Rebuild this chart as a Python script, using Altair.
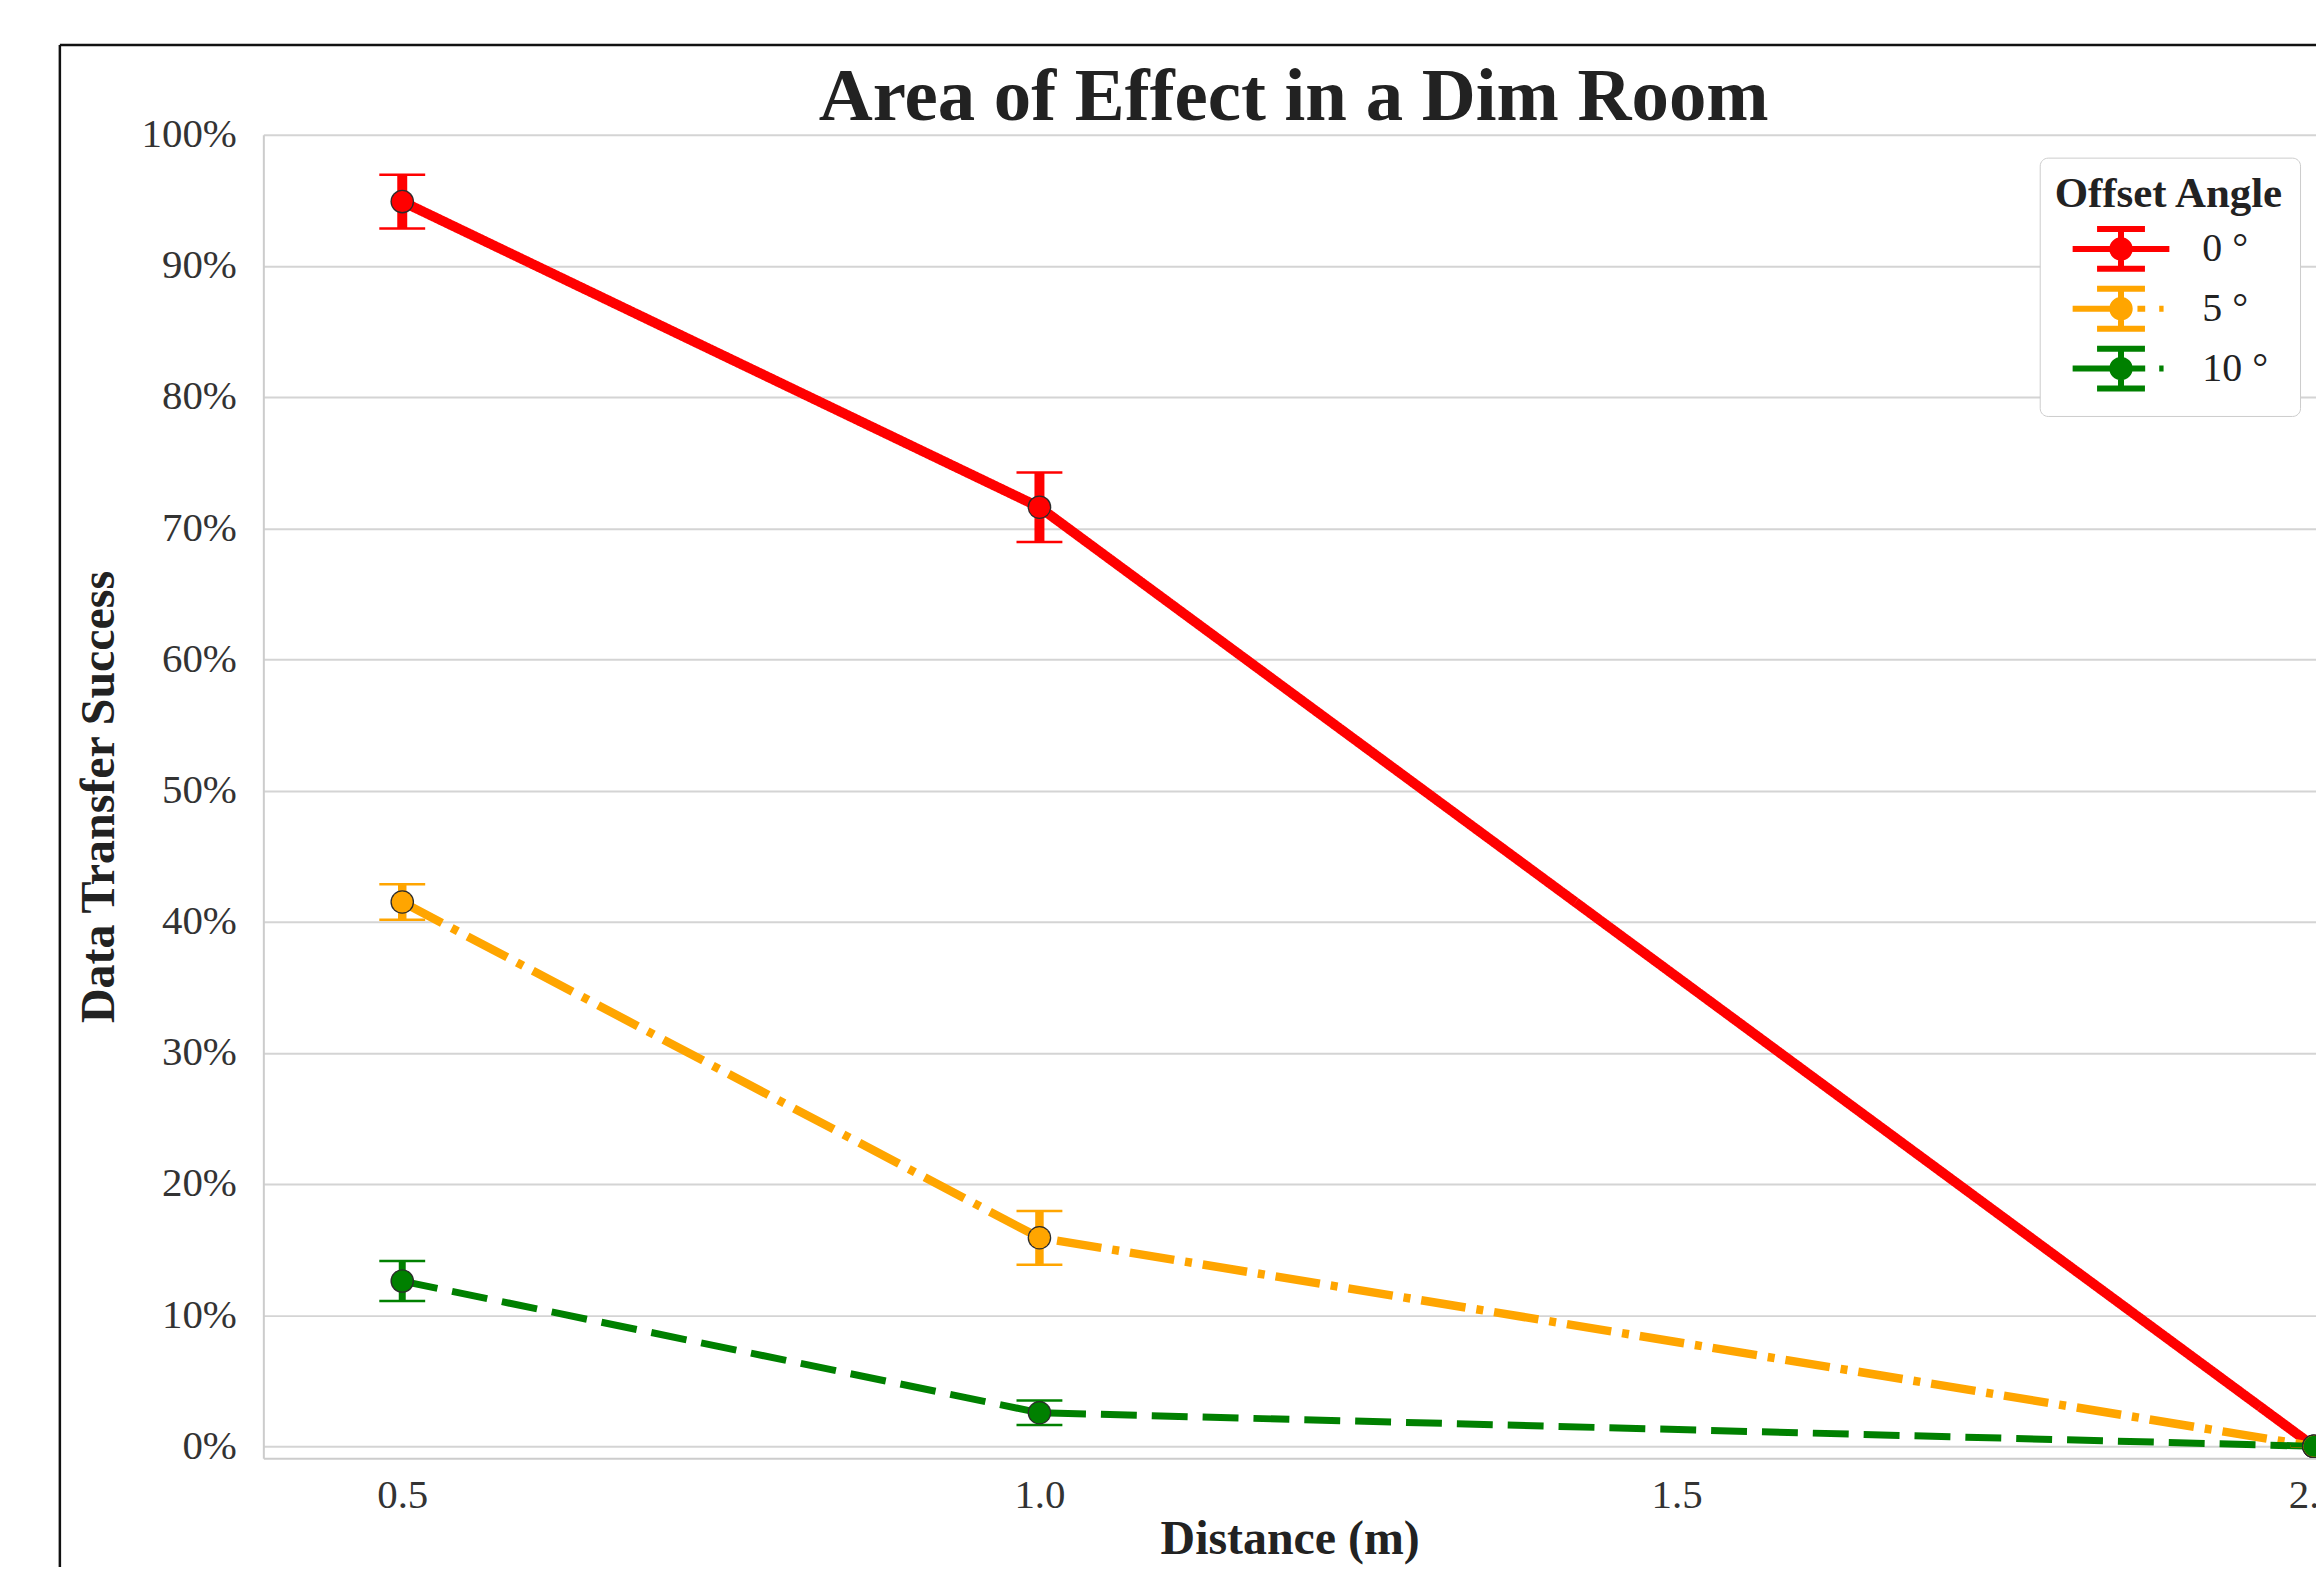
import altair as alt
import pandas as pd

# ---- data ----
distances = [0.5, 1.0, 2.0]
angle_labels = ["0 °", "5 °", "10 °"]
series_keys = ["s0", "s5", "s10"]
success_0 = [0.949, 0.716, 0.0]
success_5 = [0.415, 0.159, 0.0]
success_10 = [0.126, 0.0256, 0.0]
error_0 = [0.0205, 0.0265, 0.0]
error_5 = [0.0135, 0.0205, 0.0]
error_10 = [0.0152, 0.0093, 0.0]
x_tick_values = [0.5, 1.0, 1.5, 2.0]
y_tick_values = [0.0, 0.1, 0.2, 0.3, 0.4, 0.5, 0.6, 0.7, 0.8, 0.9, 1.0]
title_text = "Area of Effect in a Dim Room"
x_title = "Distance (m)"
y_title = "Data Transfer Success"
legend_title = "Offset Angle"

# ---- styles ----
series_colors = ["#ff0000", "#ffa500", "#008000"]
line_dashes = [[1, 0], [45, 11, 7, 11], [36, 15]]
line_widths = [10, 7, 8]
_glyph = ("M0,-0.825V0.825M-0.99,-0.825H0.99M-0.99,0.825H0.99"
          "M0.36,0A0.36,0.36,0,1,1,-0.36,0A0.36,0.36,0,1,1,0.36,0Z")
legend_paths = [
    "M-2,0H2" + _glyph,
    "M-2,0H-0.2M0.68,0H1M1.58,0H1.76" + _glyph,
    "M-2,0H-0.2M0.4,0H1M1.58,0H1.76" + _glyph,
]
FONT = "Liberation Serif"
W, H = 2058, 1327

rows = []
for name, key, vals, errs in zip(angle_labels, series_keys,
                                 [success_0, success_5, success_10],
                                 [error_0, error_5, error_10]):
    for d, v, e in zip(distances, vals, errs):
        rows.append({"distance": d, "angle": name, "series": key, "value": v,
                     "lo": v - e, "hi": v + e})
df = pd.DataFrame(rows)

x_scale = alt.Scale(domain=[0.391, 2.0017], nice=False, zero=False)
y_scale = alt.Scale(domain=[-0.0091, 1.0], nice=False, zero=False)
color_scale = alt.Scale(domain=series_keys, range=series_colors)
dash_scale = alt.Scale(domain=series_keys, range=line_dashes)
width_scale = alt.Scale(domain=series_keys, range=line_widths)
legend_color_scale = alt.Scale(domain=angle_labels, range=series_colors)
shape_scale = alt.Scale(domain=angle_labels, range=legend_paths)

x_axis = alt.Axis(values=x_tick_values, format=".1f", title=x_title,
                  titleFont=FONT, titleFontSize=48, titleFontWeight="bold",
                  titleColor="#222222", titlePadding=0,
                  labelFont=FONT, labelFontSize=41, labelColor="#333333",
                  labelPadding=17, ticks=False, domain=True,
                  domainColor="#cccccc", domainWidth=2, grid=False,
                  labelFlush=False)
y_axis = alt.Axis(values=y_tick_values, format=".0%", title=y_title,
                  titleFont=FONT, titleFontSize=48, titleFontWeight="bold",
                  titleColor="#222222", titlePadding=18,
                  labelFont=FONT, labelFontSize=41, labelColor="#333333",
                  labelPadding=27, ticks=False, domain=True,
                  domainColor="#cccccc", domainWidth=2, grid=True,
                  gridColor="#d4d4d4", gridWidth=2)

X = alt.X("distance:Q", scale=x_scale, axis=x_axis)


def Y(field):
    return alt.Y(f"{field}:Q", scale=y_scale, axis=y_axis)


def C():
    return alt.Color("series:N", scale=color_scale, legend=None)


base = alt.Chart(df)

frame_data = alt.Data(values=[{"k": 1}])
frame_v = alt.Chart(frame_data).mark_rule(color="#111111", strokeWidth=2.5).encode(
    x=alt.value(-204), y=alt.value(-90), y2=alt.value(H + 300))
frame_h = alt.Chart(frame_data).mark_rule(color="#111111", strokeWidth=2.5).encode(
    x=alt.value(-204), x2=alt.value(W + 300), y=alt.value(-90))

title_layer = alt.Chart(alt.Data(values=[{"t": title_text}])).mark_text(
    font=FONT, fontSize=75, fontWeight="bold", color="#222222",
    align="center", baseline="alphabetic",
).encode(text="t:N", x=alt.value(1033), y=alt.value(-14.5))

lines = base.mark_line().encode(
    x=X, y=Y("value"), color=C(),
    strokeDash=alt.StrokeDash("series:N", scale=dash_scale, legend=None),
    size=alt.Size("series:N", scale=width_scale, legend=None),
)

bars = base.mark_rule().encode(
    x=X, y=Y("lo"), y2="hi:Q", color=C(),
    size=alt.Size("series:N", scale=width_scale, legend=None),
)

caps_lo = base.mark_tick(orient="horizontal", size=46, thickness=2.5, opacity=1).encode(
    x=X, y=Y("lo"), color=C())
caps_hi = base.mark_tick(orient="horizontal", size=46, thickness=2.5, opacity=1).encode(
    x=X, y=Y("hi"), color=C())

pts_under = base.mark_point(filled=True, opacity=1, size=560, color="#2b2b2b").encode(
    x=X, y=Y("value"))
pts_over = base.mark_point(filled=True, opacity=1, size=445, strokeWidth=0).encode(
    x=X, y=Y("value"), color=C())

legend = alt.Legend(
    title=legend_title, orient="none", legendX=1781, legendY=23,
    titleFont=FONT, titleFontSize=43, titleFontWeight="bold", titleColor="#222222",
    titlePadding=6, titleLimit=600,
    labelFont=FONT, labelFontSize=40, labelColor="#222222",
    symbolSize=2352, symbolStrokeWidth=6, symbolOffset=39, labelOffset=54,
    rowPadding=-5, padding=15, fillColor="white", strokeColor="#cccccc",
    cornerRadius=8, symbolOpacity=1,
)

legend_layer = base.transform_filter("false").mark_point(filled=True, opacity=1).encode(
    x=X, y=Y("value"),
    fill=alt.Fill("angle:N", scale=legend_color_scale, legend=legend),
    stroke=alt.Stroke("angle:N", scale=legend_color_scale, legend=legend),
    shape=alt.Shape("angle:N", scale=shape_scale, legend=legend),
)

chart = alt.layer(
    frame_v, frame_h, title_layer, lines, bars, caps_lo, caps_hi,
    pts_under, pts_over, legend_layer
).properties(
    width=W, height=H,
    autosize=alt.AutoSizeParams(type="none"),
    padding={"left": 256, "top": 125, "right": 0, "bottom": 107},
).configure_view(strokeWidth=0)

chart.save("out.html", embed_options={"renderer": "svg", "actions": False})
